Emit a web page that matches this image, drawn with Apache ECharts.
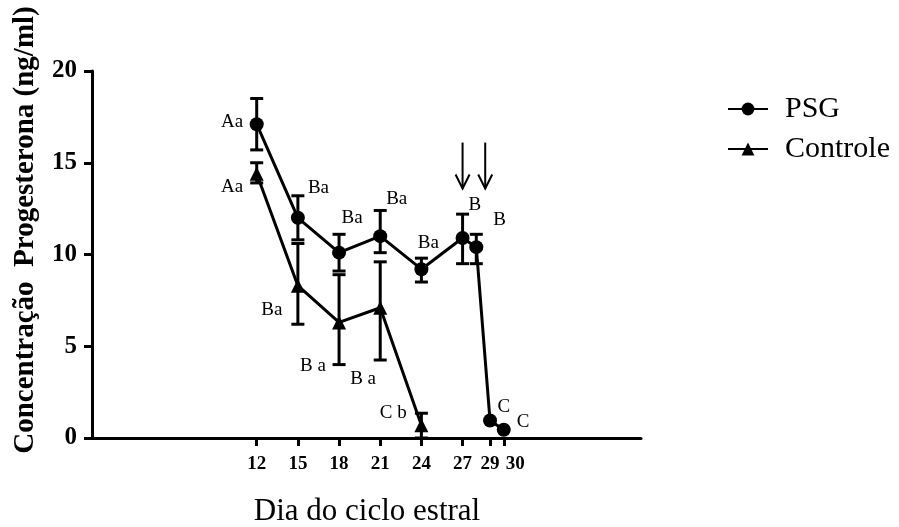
<!DOCTYPE html>
<html>
<head>
<meta charset="utf-8">
<script src="https://cdn.jsdelivr.net/npm/echarts@6/dist/echarts.min.js"></script>
<style>html,body{margin:0;padding:0;background:#fff}#c{width:899px;height:527px}</style>
</head>
<body>
<div id="c"></div>
<script>
// ---- data ----
var xTicks = [12, 15, 18, 21, 24, 27, 29, 30];
var psgDays  = [12, 15, 18, 21, 24, 27, 28, 29, 30];
var psgMean  = [17.1, 12.0, 10.1, 11.0, 9.2, 10.9, 10.4, 0.95, 0.45];
var psgUpper = [18.5, 13.2, 11.1, 12.4, 9.8, 12.2, 11.1, null, null];
var psgLower = [15.7, 10.8, 9.1, 10.1, 8.5, 9.5, 9.5, null, null];

var ctrlDays  = [12, 15, 18, 21, 24];
var ctrlMean  = [14.4, 8.3, 6.3, 7.1, 0.7];
var ctrlUpper = [15.0, 10.6, 8.9, 9.6, 1.35];
var ctrlLower = [13.9, 6.2, 4.0, 4.25, 0];

var noteText = ['Aa', 'Aa', 'Ba', 'Ba', 'Ba', 'Ba', 'B', 'B', 'C', 'C', 'Ba', 'B a', 'B a', 'C b'];
var noteX    = [10.2, 10.2, 16.5, 18.95, 22.2, 24.5, 27.9, 29.7, 30.0, 31.4, 13.1, 16.1, 19.75, 21.95];
var noteY    = [17.2, 13.7, 13.6, 12.0, 13.0, 10.6, 12.7, 11.9, 1.7, 0.87, 7.0, 3.9, 3.2, 1.36];

var arrowX   = [27, 28.65];
var arrowTop = [16.1, 16.1];
var arrowBot = [13.6, 13.6];

var serif = 'Liberation Serif';

// last tick label is drawn on an overlay axis so it is not hidden by overlap checks
var xTicksMain = xTicks.slice(0, xTicks.length - 1);
var xTicksLast = xTicks.slice(xTicks.length - 1);

function zip3(a, b, c) { return a.map(function (v, i) { return [v, b[i], c[i]]; }); }
function zip2(a, b) { return a.map(function (v, i) { return [v, b[i]]; }); }

function errRender(params, api) {
  var lo = api.value(2), hi = api.value(1);
  if (lo == null || hi == null || isNaN(lo) || isNaN(hi)) return;
  var p1 = api.coord([api.value(0), hi]);
  var p2 = api.coord([api.value(0), lo]);
  var w = 6.5;
  var st = { stroke: '#000', lineWidth: 3 };
  return {
    type: 'group',
    children: [
      { type: 'line', shape: { x1: p1[0], y1: p1[1], x2: p2[0], y2: p2[1] }, style: st },
      { type: 'line', shape: { x1: p1[0] - w, y1: p1[1], x2: p1[0] + w, y2: p1[1] }, style: st },
      { type: 'line', shape: { x1: p2[0] - w, y1: p2[1], x2: p2[0] + w, y2: p2[1] }, style: st }
    ]
  };
}

function arrowRender(params, api) {
  var p1 = api.coord([api.value(0), api.value(1)]);
  var p2 = api.coord([api.value(0), api.value(2)]);
  var st = { stroke: '#000', lineWidth: 2, fill: null };
  return {
    type: 'group',
    children: [
      { type: 'line', shape: { x1: p1[0], y1: p1[1], x2: p2[0], y2: p2[1] }, style: st },
      { type: 'polyline', shape: { points: [[p2[0] - 7, p2[1] - 14], [p2[0], p2[1]], [p2[0] + 7, p2[1] - 14]] }, style: st }
    ]
  };
}

var tickFont = { fontFamily: serif, fontWeight: 'bold', fontSize: 19, color: '#000' };

var chart = echarts.init(document.getElementById('c'), null, { renderer: 'canvas' });
chart.setOption({
  animation: false,
  backgroundColor: '#fff',
  grid: { left: 92, right: 258, top: 71, bottom: 89 },
  legend: {
    orient: 'vertical', left: 722, top: 89, itemWidth: 40, itemHeight: 16, itemGap: 10,
    data: ['PSG', 'Controle'],
    textStyle: { fontFamily: serif, fontSize: 30, color: '#000', padding: [0, 0, 0, 12] }
  },
  xAxis: [{
    type: 'value', min: 0, max: 40, position: 'bottom',
    splitLine: { show: false },
    axisLine: { lineStyle: { color: '#000', width: 3 } },
    axisTick: { customValues: xTicks, length: 8, lineStyle: { color: '#000', width: 3 } },
    axisLabel: Object.assign({ customValues: xTicksMain, showMaxLabel: true, showMinLabel: true, hideOverlap: false, margin: 17 }, tickFont)
  }, {
    type: 'value', min: 0, max: 40, position: 'bottom', offset: 0,
    splitLine: { show: false },
    axisLine: { show: false },
    axisTick: { show: false },
    axisLabel: Object.assign({ customValues: xTicksLast, showMaxLabel: true, showMinLabel: true, align: 'left', padding: [0, 0, 0, 2], margin: 17 }, tickFont)
  }],
  yAxis: {
    type: 'value', min: 0, max: 20, interval: 5,
    splitLine: { show: false },
    axisLine: { show: true, lineStyle: { color: '#000', width: 3 } },
    axisTick: { show: true, length: 8, lineStyle: { color: '#000', width: 3 } },
    axisLabel: { fontFamily: serif, fontWeight: 'bold', fontSize: 25, color: '#000', margin: 15 }
  },
  graphic: [
    { type: 'text', x: 26, y: 230, rotation: Math.PI / 2,
      style: { text: 'Concentração  Progesterona (ng/ml)', font: 'bold 29px "Liberation Serif"', fill: '#000', align: 'center', verticalAlign: 'middle' } },
    { type: 'text', x: 367, y: 512,
      style: { text: 'Dia do ciclo estral', font: '31px "Liberation Serif"', fill: '#000', align: 'center', verticalAlign: 'middle' } }
  ],
  series: [
    { name: 'PSG', type: 'line', data: zip2(psgDays, psgMean), symbol: 'circle', symbolSize: 14,
      lineStyle: { color: '#000', width: 3 }, itemStyle: { color: '#000' }, z: 3 },
    { name: 'Controle', type: 'line', data: zip2(ctrlDays, ctrlMean), symbol: 'triangle', symbolSize: 14,
      lineStyle: { color: '#000', width: 3 }, itemStyle: { color: '#000' }, z: 3 },
    { type: 'custom', renderItem: errRender, data: zip3(psgDays, psgUpper, psgLower), z: 2, silent: true },
    { type: 'custom', renderItem: errRender, data: zip3(ctrlDays, ctrlUpper, ctrlLower), z: 2, silent: true },
    { type: 'custom', renderItem: arrowRender, data: zip3(arrowX, arrowTop, arrowBot), z: 2, silent: true },
    { type: 'scatter', symbolSize: 0, silent: true, itemStyle: { opacity: 1, color: '#000' },
      data: noteX.map(function (x, i) { return { value: [x, noteY[i]], label: { formatter: noteText[i] } }; }),
      label: { show: true, position: 'inside', fontFamily: serif, fontSize: 19, color: '#000', opacity: 1 } }
  ]
});
</script>
</body>
</html>
